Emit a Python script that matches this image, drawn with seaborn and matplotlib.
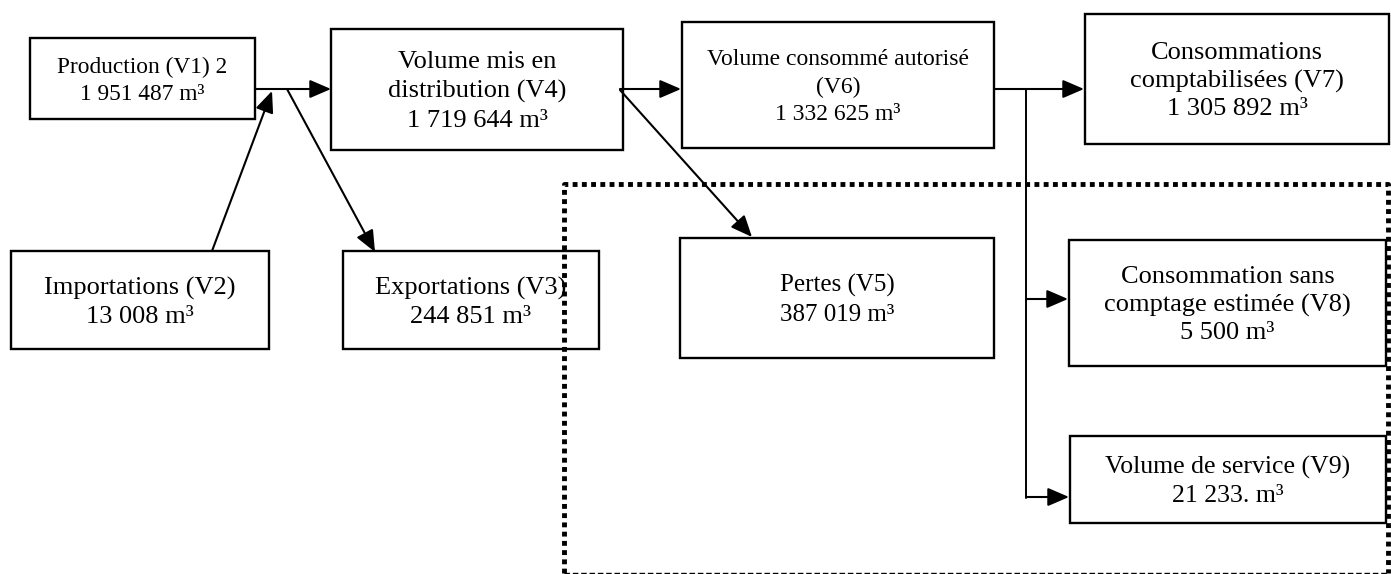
import matplotlib.pyplot as plt
import seaborn as sns
from matplotlib.patches import Rectangle
from matplotlib.patches import ArrowStyle

# données du bilan (m3)
box_ids = ["V1", "V2", "V3", "V4", "V5", "V6", "V7", "V8", "V9"]
titles = [
    "Production (V1) 2",
    "Importations (V2)",
    "Exportations (V3)",
    "Volume mis en\ndistribution (V4)",
    "Pertes (V5)",
    "Volume consommé autorisé\n(V6)",
    "Consommations\ncomptabilisées (V7)",
    "Consommation sans\ncomptage estimée (V8)",
    "Volume de service (V9)",
]
volumes = ["1 951 487", "13 008", "244 851", "1 719 644", "387 019",
           "1 332 625", "1 305 892", "5 500", "21 233."]
unit = "m³"

# liens entre les boîtes
flows = [("V1", "V4"), ("V2", "V4"), ("V1", "V3"), ("V4", "V6"),
         ("V4", "V5"), ("V6", "V7"), ("V6", "V8"), ("V6", "V9")]

# mise en page (pixels, origine en haut à gauche)
layout = {
    "V1": (30, 38, 255, 119, 16.8, 1.38),
    "V2": (11, 251, 269, 349, 19, 1.35),
    "V3": (343, 251, 599, 349, 19, 1.35),
    "V4": (331, 29, 623, 150, 19, 1.4),
    "V5": (680, 238, 994, 358, 18, 1.4),
    "V6": (682, 22, 994, 148, 17, 1.38),
    "V7": (1085, 14, 1389, 144, 19, 1.33),
    "V8": (1069, 240, 1386, 366, 19, 1.33),
    "V9": (1070, 436, 1386, 523, 18.5, 1.35),
}

sns.set_theme(style="white")
plt.rcParams["font.family"] = ["Liberation Serif", "DejaVu Serif"]

fig = plt.figure(figsize=(13.91, 5.74), dpi=100)
ax = fig.add_axes([0, 0, 1, 1])
ax.set_xlim(0, 1391)
ax.set_ylim(574, 0)
ax.axis("off")

for bid, title, vol in zip(box_ids, titles, volumes):
    x0, y0, x1, y1, fs, ls = layout[bid]
    ax.add_patch(Rectangle((x0, y0), x1 - x0, y1 - y0, fill=True,
                           facecolor="white", edgecolor="black", lw=1.7, zorder=2))
    ax.text((x0 + x1) / 2, (y0 + y1) / 2 + 2, f"{title}\n{vol} {unit}",
            ha="center", va="center", fontsize=fs, linespacing=ls,
            color="black", zorder=3)

head = ArrowStyle("-|>", head_length=0.65, head_width=0.28)


def arrow(p0, p1, lw=1.5):
    ax.annotate("", xy=p1, xytext=p0,
                arrowprops=dict(arrowstyle=head, mutation_scale=20, lw=lw,
                                color="black", shrinkA=0, shrinkB=0),
                zorder=4)


# tracés des flux
arrow_pts = {
    ("V1", "V4"): ((255, 89), (331, 89)),
    ("V2", "V4"): ((212, 251), (272, 91)),
    ("V1", "V3"): ((287, 89), (375, 252)),
    ("V4", "V6"): ((620, 89), (681, 89)),
    ("V4", "V5"): ((620, 90), (752, 237)),
    ("V6", "V7"): ((994, 89), (1084, 89)),
    ("V6", "V8"): ((1026, 299), (1068, 299)),
    ("V6", "V9"): ((1026, 497), (1069, 497)),
}
for f in flows:
    p0, p1 = arrow_pts[f]
    arrow(p0, p1)

# ligne verticale de répartition
ax.plot([1026, 1026], [89, 498], color="black", lw=1.4, zorder=1)

# cadre pointillé (pertes + consommations non comptées)
ax.plot([564, 564, 1388, 1388], [573, 184, 184, 573], color="black",
        lw=3.5, linestyle=(0, (1, 0.9)), solid_capstyle="butt",
        dash_capstyle="butt", zorder=5)
ax.plot([564, 1388], [573, 573], color="black", lw=1.0,
        linestyle=(0, (4, 2)), zorder=5)

fig.savefig("out.png", dpi=100)
